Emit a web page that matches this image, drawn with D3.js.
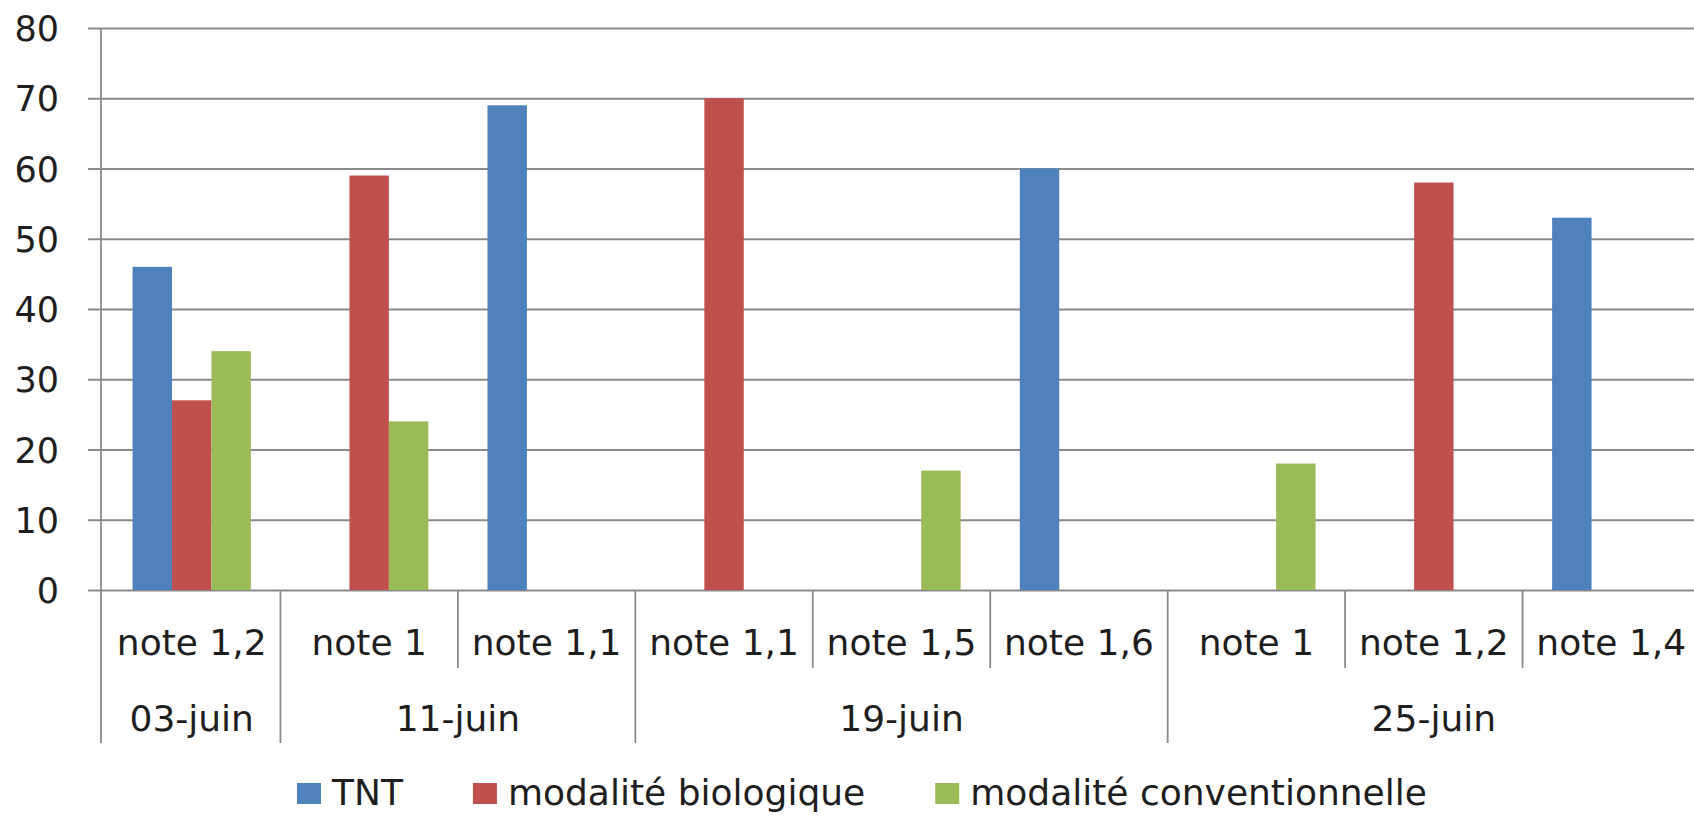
<!DOCTYPE html>
<html>
<head>
<meta charset="utf-8">
<script src="https://cdn.jsdelivr.net/npm/d3@7"></script>
<style>
  html, body { margin: 0; padding: 0; background: #fff; overflow: hidden; }
  svg { display: block; }
  text { font-family: "DejaVu Sans", sans-serif; font-size: 36px; fill: #1e1e1e; }
</style>
</head>
<body>
<svg></svg>
<script>
// sub categories (one per bar slot group), with their parent dates
var subCategories = ["note 1,2", "note 1", "note 1,1", "note 1,1", "note 1,5", "note 1,6", "note 1", "note 1,2", "note 1,4"];
var dates = ["03-juin", "11-juin", "19-juin", "25-juin"];
var dateSpans = [1, 2, 3, 3];

var seriesNames = ["TNT", "modalité biologique", "modalité conventionnelle"];
var seriesColors = ["#4F81BD", "#C0504D", "#9BBB59"];

// null = no bar in that slot
var tntValues  = [46, null, 69, null, null, 60, null, null, 53];
var bioValues  = [27, 59, null, 70, null, null, null, 58, null];
var convValues = [34, 24, null, null, 17, null, 18, null, null];

var yTicks = [0, 10, 20, 30, 40, 50, 60, 70, 80];


function buildBars(){
  var all = [tntValues, bioValues, convValues];
  var bars = [];
  all.forEach(function(vals, s){
    vals.forEach(function(v, i){
      if (v !== null) bars.push({cat: i, series: s, value: v});
    });
  });
  return bars;
}


window.onload = function(){

  var W = 1694;
  var H = window.innerHeight || 816;
  if (H > 816) H = 816;
  var ky = H / 816;   // the layout was measured on a 816px tall picture

  var svg = d3.select("svg")
    .attr("width", W)
    .attr("height", H);

  var gridColor = "#8a8a8a";

  var x = d3.scaleBand()
    .domain(d3.range(subCategories.length))
    .range([103, 1700])
    .paddingInner(0)
    .paddingOuter(0);

  // excel-like gap width of 150%
  var x1 = d3.scaleBand()
    .domain([0, 1, 2])
    .range([0, x.bandwidth()])
    .paddingInner(0)
    .paddingOuter(0.75);

  var y = d3.scaleLinear()
    .domain([0, 80])
    .range([590 * ky, 28 * ky]);

  // y axis + gridlines
  var yAxis = svg.append("g")
    .attr("transform", "translate(101,0)")
    .call(d3.axisLeft(y)
      .tickValues(yTicks)
      .tickSizeInner(-(W - 101))
      .tickSizeOuter(0)
      .tickPadding(42));

  yAxis.select(".domain").remove();
  yAxis.selectAll(".tick line")
    .attr("x1", -13)
    .attr("stroke", gridColor)
    .attr("stroke-width", 1.8);
  yAxis.selectAll(".tick text")
    .attr("dy", "0.36em")
    .style("font-family", "DejaVu Sans, sans-serif")
    .style("font-size", "35px")
    .attr("fill", "#1e1e1e");

  // bars
  svg.selectAll("rect.bar")
    .data(buildBars())
    .enter()
    .append("rect")
    .attr("class", "bar")
    .attr("x", function(d){ return x(d.cat) + x1(d.series); })
    .attr("width", x1.bandwidth())
    .attr("y", function(d){ return y(d.value); })
    .attr("height", function(d){ return y(0) - y(d.value); })
    .style("fill", function(d){ return seriesColors[d.series]; });

  // vertical axis line, drawn down through the category area
  svg.append("line")
    .attr("x1", 101).attr("x2", 101)
    .attr("y1", y(80)).attr("y2", 743 * ky)
    .attr("stroke", gridColor)
    .attr("stroke-width", 1.8);

  // category separators: short inside a date, long between dates
  var groupEnds = [];
  var acc = 0;
  dateSpans.forEach(function(s){ acc += s; groupEnds.push(acc); });

  var seps = d3.range(1, subCategories.length + 1);
  svg.selectAll("line.sep")
    .data(seps)
    .enter()
    .append("line")
    .attr("class", "sep")
    .attr("x1", function(i){ return x.range()[0] + i * x.step(); })
    .attr("x2", function(i){ return x.range()[0] + i * x.step(); })
    .attr("y1", y(0))
    .attr("y2", function(i){ return (groupEnds.indexOf(i) >= 0 ? 743 : 668) * ky; })
    .attr("stroke", gridColor)
    .attr("stroke-width", 1.8);

  // sub category labels
  svg.selectAll("text.sub")
    .data(subCategories)
    .enter()
    .append("text")
    .attr("class", "sub")
    .attr("x", function(d, i){ return x(i) + x.bandwidth() / 2; })
    .attr("y", 642 * ky)
    .attr("dy", "0.36em")
    .attr("text-anchor", "middle")
    .text(function(d){ return d; });

  // date labels, centred on their span
  var start = 0;
  var dateData = dates.map(function(d, i){
    var o = {label: d, from: start, to: start + dateSpans[i]};
    start += dateSpans[i];
    return o;
  });

  svg.selectAll("text.date")
    .data(dateData)
    .enter()
    .append("text")
    .attr("class", "date")
    .attr("x", function(d){ return (x(d.from) + x.range()[0] + d.to * x.step()) / 2; })
    .attr("y", 718 * ky)
    .attr("dy", "0.36em")
    .attr("text-anchor", "middle")
    .text(function(d){ return d.label; });

  // legend
  var legend = svg.append("g").attr("class", "legend");
  var lx = 297;
  var ly = H - 24;   // text centre, leaves room for the descenders
  seriesNames.forEach(function(name, i){
    legend.append("rect")
      .attr("x", lx).attr("y", ly - 9)
      .attr("width", 24).attr("height", 21)
      .style("fill", seriesColors[i]);
    var t = legend.append("text")
      .attr("x", lx + 35)
      .attr("y", ly)
      .attr("dy", "0.36em")
      .text(name);
    lx = lx + 35 + t.node().getComputedTextLength() + 70;
  });

};
</script>
</body>
</html>
